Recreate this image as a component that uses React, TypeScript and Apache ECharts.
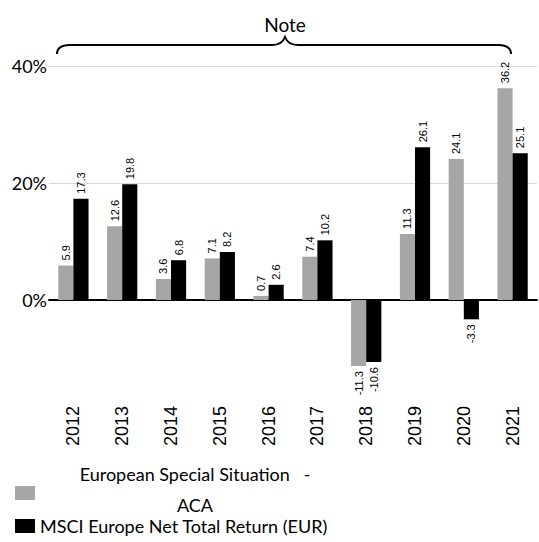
import React, { useEffect, useRef } from "react";
import * as echarts from "echarts";

const years = ["2012", "2013", "2014", "2015", "2016", "2017", "2018", "2019", "2020", "2021"];
const fundValues = [5.9, 12.6, 3.6, 7.1, 0.7, 7.4, -11.3, 11.3, 24.1, 36.2];
const indexValues = [17.3, 19.8, 6.8, 8.2, 2.6, 10.2, -10.6, 26.1, -3.3, 25.1];
const fundName = "European Special Situation   -\nACA";
const indexName = "MSCI Europe Net Total Return (EUR)";
const noteText = "Note";

const bracePath =
  "M57,54 Q57,45 70,45 L272,45 Q282,45 285,37 Q288,45 298,45 L498,45 Q511,45 511,54";

echarts.graphic.registerShape(
  "noteBrace",
  (echarts.graphic as any).extendPath(bracePath, {})
);

function makeData(vals: number[]) {
  return vals.map((v) =>
    v < 0
      ? {
          value: v,
          label: { position: "bottom", align: "right", distance: 5 },
        }
      : { value: v }
  );
}

export default function App() {
  const ref = useRef<HTMLDivElement>(null);
  useEffect(() => {
    if (!ref.current) return;
    const chart = echarts.init(ref.current, undefined, { renderer: "svg" });
    const labelCommon = {
      show: true,
      position: "top",
      rotate: 90,
      align: "left",
      verticalAlign: "middle",
      distance: 5,
      fontFamily: "Liberation Sans",
      fontSize: 11,
      color: "#000",
    };
    chart.setOption({
      animation: false,
      backgroundColor: "#fff",
      grid: { left: 49, right: 2, top: 66, bottom: 125, containLabel: false },
      xAxis: [
        {
          type: "category",
          data: years,
          axisLine: { onZero: true, lineStyle: { color: "#000", width: 2 } },
          axisTick: { show: false },
          axisLabel: { show: false },
        },
        {
          type: "category",
          data: years,
          position: "bottom",
          axisLine: { show: false, onZero: false },
          axisTick: { show: false },
          axisLabel: {
            rotate: 90,
            margin: -11,
            fontFamily: "Liberation Sans",
            fontSize: 18,
            color: "#000",
          },
        },
      ],
      yAxis: {
        type: "value",
        min: -20,
        max: 40,
        interval: 20,
        axisLine: { show: false },
        axisTick: { show: false },
        splitLine: {
          lineStyle: { color: ["transparent", "#d9d9d9", "#d9d9d9", "#d9d9d9"], width: 1 },
        },
        axisLabel: {
          margin: 2,
          fontFamily: "Lato",
          fontSize: 18,
          color: "#000",
          formatter: (v: number) => (v < 0 ? "" : v + "%"),
        },
      },
      series: [
        {
          type: "bar",
          name: fundName,
          data: makeData(fundValues),
          itemStyle: { color: "#a6a6a6" },
          barGap: "0%",
          barCategoryGap: "38%",
          label: labelCommon,
        },
        {
          type: "bar",
          name: indexName,
          data: makeData(indexValues),
          itemStyle: { color: "#000" },
          barGap: "0%",
          barCategoryGap: "38%",
          label: labelCommon,
        },
      ],
      graphic: [
        {
          type: "noteBrace",
          x: 0,
          y: 0,
          style: { fill: "none", stroke: "#000", lineWidth: 2 },
        },
        {
          type: "text",
          x: 285,
          y: 24,
          style: {
            text: noteText,
            fontFamily: "Lato",
            fontSize: 19,
            fill: "#000",
            align: "center",
            verticalAlign: "middle",
          },
        },
        {
          type: "rect",
          shape: { x: 15, y: 486, width: 20, height: 14 },
          style: { fill: "#a6a6a6" },
        },
        {
          type: "text",
          x: 195,
          y: 489,
          style: {
            text: fundName,
            fontFamily: "Lato",
            fontSize: 18,
            lineHeight: 31,
            fill: "#000",
            align: "center",
            verticalAlign: "middle",
          },
        },
        {
          type: "rect",
          shape: { x: 15, y: 519, width: 20, height: 14 },
          style: { fill: "#000" },
        },
        {
          type: "text",
          x: 40,
          y: 526,
          style: {
            text: indexName,
            fontFamily: "Lato",
            fontSize: 18,
            fill: "#000",
            align: "left",
            verticalAlign: "middle",
          },
        },
      ],
    });
    return () => chart.dispose();
  }, []);
  return <div ref={ref} style={{ width: 539, height: 542, position: "absolute", left: 0, top: 0 }} />;
}
